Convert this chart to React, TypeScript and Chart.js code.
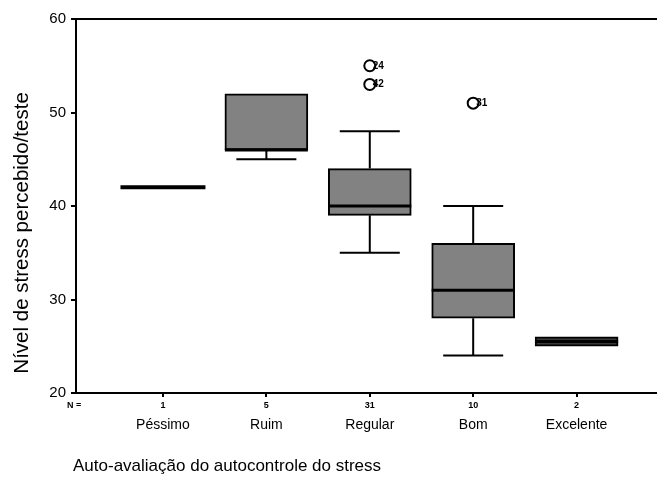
import React, { useEffect, useRef } from "react";
import { Chart, registerables } from "chart.js";

Chart.register(...registerables);

const categories = ["Péssimo", "Ruim", "Regular", "Bom", "Excelente"];
const nCounts = [1, 5, 31, 10, 2];
const q1 = [42, 46, 39, 28, 25];
const q3 = [42, 52, 44, 36, 26];
const medians = [42, 46, 40, 31, 25.5];
const whiskerLow = [42, 45, 35, 24, 25];
const whiskerHigh = [42, 52, 48, 40, 26];
const outlierCat = [3, 3, 4];
const outlierValue = [55, 53, 51];
const outlierLabel = ["24", "42", "31"];
const yTicks = [20, 30, 40, 50, 60];
const yTitle = "Nível de stress percebido/teste";
const xTitle = "Auto-avaliação do autocontrole do stress";

const FONT = 'Arial, "Liberation Sans", sans-serif';
const BOX_W = 83;
const CAP_W = 60;

const boxPlugin = {
  id: "boxExtras",
  afterDatasetsDraw(chart: any) {
    const { ctx, chartArea, scales } = chart;
    const x = scales.x;
    const y = scales.y;
    ctx.save();
    ctx.strokeStyle = "#000";
    ctx.lineCap = "butt";
    // top frame line and bottom axis continuation to the page edge
    ctx.lineWidth = 2;
    ctx.beginPath();
    ctx.moveTo(chartArea.left, chartArea.top);
    ctx.lineTo(chart.width, chartArea.top);
    ctx.moveTo(chartArea.right - 1, chartArea.bottom);
    ctx.lineTo(chart.width, chartArea.bottom);
    ctx.stroke();

    categories.forEach((_, i) => {
      const cx = x.getPixelForValue(i + 1);
      ctx.lineWidth = 2;
      if (whiskerHigh[i] > q3[i]) {
        ctx.beginPath();
        ctx.moveTo(cx, y.getPixelForValue(q3[i]));
        ctx.lineTo(cx, y.getPixelForValue(whiskerHigh[i]));
        ctx.moveTo(cx - CAP_W / 2, y.getPixelForValue(whiskerHigh[i]));
        ctx.lineTo(cx + CAP_W / 2, y.getPixelForValue(whiskerHigh[i]));
        ctx.stroke();
      }
      if (whiskerLow[i] < q1[i]) {
        ctx.beginPath();
        ctx.moveTo(cx, y.getPixelForValue(q1[i]));
        ctx.lineTo(cx, y.getPixelForValue(whiskerLow[i]));
        ctx.moveTo(cx - CAP_W / 2, y.getPixelForValue(whiskerLow[i]));
        ctx.lineTo(cx + CAP_W / 2, y.getPixelForValue(whiskerLow[i]));
        ctx.stroke();
      }
      const single = q1[i] === q3[i];
      ctx.lineWidth = single ? 4 : 3;
      ctx.beginPath();
      const my = y.getPixelForValue(medians[i]);
      ctx.moveTo(cx - BOX_W / 2 - (single ? 1 : 0), my);
      ctx.lineTo(cx + BOX_W / 2 + (single ? 1 : 0), my);
      ctx.stroke();
    });

    // outlier labels
    ctx.fillStyle = "#000";
    ctx.font = `bold 10px ${FONT}`;
    ctx.textAlign = "left";
    ctx.textBaseline = "middle";
    outlierCat.forEach((c, k) => {
      const px = x.getPixelForValue(c);
      const py = y.getPixelForValue(outlierValue[k]);
      ctx.fillText(outlierLabel[k], px + 3, py);
    });

    // N row
    ctx.font = `bold 9px ${FONT}`;
    ctx.textBaseline = "middle";
    ctx.textAlign = "left";
    ctx.fillText("N =", chartArea.left - 9, chartArea.bottom + 13);
    ctx.textAlign = "center";
    nCounts.forEach((n, i) => {
      ctx.fillText(String(n), x.getPixelForValue(i + 1), chartArea.bottom + 13);
    });

    // x title
    ctx.font = `17px ${FONT}`;
    ctx.textAlign = "left";
    ctx.textBaseline = "middle";
    ctx.fillText(xTitle, chartArea.left - 3, 466);

    // y title
    ctx.save();
    ctx.translate(22, chartArea.top + (chartArea.bottom - chartArea.top) * 0.572);
    ctx.rotate(-Math.PI / 2);
    ctx.font = `20.5px ${FONT}`;
    ctx.textAlign = "center";
    ctx.textBaseline = "middle";
    ctx.fillText(yTitle, 0, 0);
    ctx.restore();

    ctx.restore();
  },
};

export default function App() {
  const ref = useRef<HTMLCanvasElement>(null);
  useEffect(() => {
    if (!ref.current) return;
    const boxData = categories
      .map((_, i) => ({ x: i + 1, y: [q1[i], q3[i]] }))
      .filter((_, i) => q1[i] !== q3[i]);
    const boxColors = categories
      .map((_, i) => (i === 4 ? "#3a3a3a" : "#828282"))
      .filter((_, i) => q1[i] !== q3[i]);
    const chart = new Chart(ref.current, {
      type: "bar",
      data: {
        datasets: [
          {
            type: "bar",
            data: boxData as any,
            backgroundColor: boxColors,
            borderColor: "#000",
            borderWidth: 2,
            borderSkipped: false,
            barThickness: BOX_W,
          },
          {
            type: "scatter",
            data: outlierCat.map((c, k) => ({ x: c, y: outlierValue[k] })),
            pointStyle: "circle",
            pointRadius: 5.5,
            pointBorderWidth: 2,
            pointBorderColor: "#000",
            pointBackgroundColor: "#fff",
          } as any,
        ],
      },
      options: {
        responsive: false,
        animation: false,
        events: [],
        layout: { padding: { top: 19, left: 0, right: 0, bottom: 0 } },
        plugins: { legend: { display: false }, tooltip: { enabled: false } },
        scales: {
          x: {
            type: "linear",
            offset: false,
            min: 0.159,
            max: 5.705,
            afterBuildTicks: (scale: any) => {
              scale.ticks = categories.map((_, i) => ({ value: i + 1 }));
            },
            afterFit: (scale: any) => {
              scale.height = 84;
              scale.paddingRight = 0;
              scale.paddingLeft = 0;
            },
            ticks: {
              autoSkip: false,
              maxRotation: 0,
              padding: 20,
              color: "#000",
              font: { family: FONT, size: 14 },
              callback: (v: any) => categories[Math.round(v) - 1] ?? "",
            },
            grid: {
              display: true,
              offset: false,
              drawOnChartArea: false,
              tickLength: 4,
              color: "#000",
              lineWidth: 2,
            },
            border: { display: true, color: "#000", width: 2 },
          },
          y: {
            type: "linear",
            min: 20,
            max: 60,
            afterBuildTicks: (scale: any) => {
              scale.ticks = yTicks.map((v) => ({ value: v }));
            },
            afterFit: (scale: any) => {
              scale.width = 76;
            },
            ticks: {
              padding: 5,
              color: "#000",
              font: { family: FONT, size: 15 },
            },
            grid: {
              display: true,
              drawOnChartArea: false,
              tickLength: 5,
              color: "#000",
              lineWidth: 2,
            },
            border: { display: true, color: "#000", width: 2 },
          },
        },
      },
      plugins: [boxPlugin],
    });
    return () => chart.destroy();
  }, []);
  return (
    <div style={{ position: "fixed", left: 0, top: 0, width: 657, height: 477, background: "#fff" }}>
      <canvas ref={ref} width={657} height={477} style={{ display: "block" }} />
    </div>
  );
}
